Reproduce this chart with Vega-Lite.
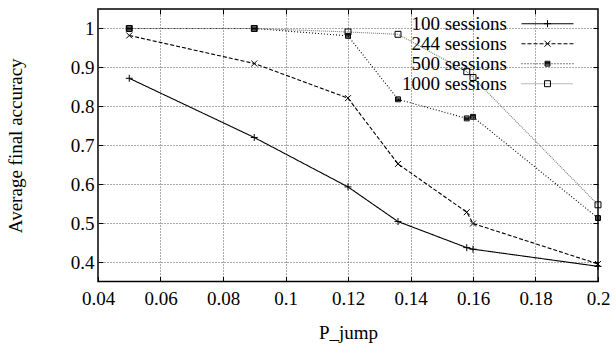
{
  "$schema": "https://vega.github.io/schema/vega-lite/v6.json",
  "width": 500,
  "height": 272.5,
  "autosize": {"type": "none"},
  "padding": {"left": 98, "top": 9, "right": 18, "bottom": 62.5},
  "background": "white",
  "config": {
    "view": {"stroke": "black", "strokeWidth": 1.5},
    "font": "Liberation Serif",
    "axis": {
      "domain": false,
      "tickSize": -5,
      "tickColor": "black",
      "tickWidth": 1,
      "labelFlush": false,
      "labelOverlap": false,
      "labelFont": "Liberation Serif",
      "labelFontSize": 19,
      "labelColor": "black",
      "titleFont": "Liberation Serif",
      "titleFontSize": 19,
      "titleFontWeight": "normal",
      "titleColor": "black",
      "gridColor": "#555",
      "gridDash": [1, 2],
      "gridWidth": 1,
      "gridOpacity": 1
    }
  },
  "data": {
    "values": [
      {"p": 0.05, "acc": 0.872, "series": "100 sessions"},
      {"p": 0.09, "acc": 0.72, "series": "100 sessions"},
      {"p": 0.12, "acc": 0.593, "series": "100 sessions"},
      {"p": 0.136, "acc": 0.504, "series": "100 sessions"},
      {"p": 0.158, "acc": 0.437, "series": "100 sessions"},
      {"p": 0.16, "acc": 0.433, "series": "100 sessions"},
      {"p": 0.2, "acc": 0.389, "series": "100 sessions"},
      {"p": 0.05, "acc": 0.982, "series": "244 sessions"},
      {"p": 0.09, "acc": 0.91, "series": "244 sessions"},
      {"p": 0.12, "acc": 0.821, "series": "244 sessions"},
      {"p": 0.136, "acc": 0.652, "series": "244 sessions"},
      {"p": 0.158, "acc": 0.528, "series": "244 sessions"},
      {"p": 0.16, "acc": 0.499, "series": "244 sessions"},
      {"p": 0.2, "acc": 0.395, "series": "244 sessions"},
      {"p": 0.05, "acc": 1.0, "series": "500 sessions"},
      {"p": 0.09, "acc": 1.0, "series": "500 sessions"},
      {"p": 0.12, "acc": 0.981, "series": "500 sessions"},
      {"p": 0.136, "acc": 0.818, "series": "500 sessions"},
      {"p": 0.158, "acc": 0.769, "series": "500 sessions"},
      {"p": 0.16, "acc": 0.773, "series": "500 sessions"},
      {"p": 0.2, "acc": 0.513, "series": "500 sessions"},
      {"p": 0.05, "acc": 1.0, "series": "1000 sessions"},
      {"p": 0.09, "acc": 1.0, "series": "1000 sessions"},
      {"p": 0.12, "acc": 0.991, "series": "1000 sessions"},
      {"p": 0.136, "acc": 0.985, "series": "1000 sessions"},
      {"p": 0.158, "acc": 0.889, "series": "1000 sessions"},
      {"p": 0.16, "acc": 0.874, "series": "1000 sessions"},
      {"p": 0.2, "acc": 0.547, "series": "1000 sessions"}
    ]
  },
  "resolve": {"axis": {"x": "independent", "y": "independent"}},
  "layer": [
    {
      "mark": {"type": "line", "strokeWidth": 1.1, "clip": false},
      "encoding": {
        "x": {
          "field": "p", "type": "quantitative",
          "scale": {"domain": [0.04, 0.2], "nice": false, "zero": false},
          "axis": {
            "orient": "bottom",
            "values": [0.04, 0.06, 0.08, 0.1, 0.12, 0.14, 0.16, 0.18, 0.2],
            "labelExpr": "'' + datum.value",
            "labelPadding": 13,
            "title": "P_jump",
            "titlePadding": 15
          }
        },
        "y": {
          "field": "acc", "type": "quantitative",
          "scale": {"domain": [0.35, 1.05], "nice": false, "zero": false},
          "axis": {
            "orient": "left",
            "values": [0.4, 0.5, 0.6, 0.7, 0.8, 0.9, 1],
            "labelExpr": "'' + datum.value",
            "labelPadding": 9,
            "title": "Average final accuracy",
            "titlePadding": 45
          }
        },
        "strokeDash": {
          "field": "series", "type": "nominal",
          "scale": {
            "domain": ["100 sessions", "244 sessions", "500 sessions", "1000 sessions"],
            "range": [[1, 0], [4, 2], [1, 2], [1, 1]]
          },
          "legend": {
            "title": null, "orient": "none", "legendX": 440, "legendY": 5.2,
            "symbolType": "M-7.43,0H7.43", "symbolSize": 49, "symbolStrokeWidth": 1.1,
            "symbolFillColor": "transparent",
            "labelAlign": "right", "labelOffset": -50,
            "labelFont": "Liberation Serif", "labelFontSize": 19, "labelColor": "black",
            "rowPadding": 0, "padding": 0, "labelLimit": 300
          }
        },
        "color": {
          "field": "series", "type": "nominal",
          "scale": {
            "domain": ["100 sessions", "244 sessions", "500 sessions", "1000 sessions"],
            "range": ["black", "black", "black", "#777777"]
          },
          "legend": {
            "title": null, "orient": "none", "legendX": 440, "legendY": 5.2,
            "symbolType": "M-7.43,0H7.43", "symbolSize": 49, "symbolStrokeWidth": 1.1,
            "symbolFillColor": "transparent",
            "labelAlign": "right", "labelOffset": -50,
            "labelFont": "Liberation Serif", "labelFontSize": 19, "labelColor": "black",
            "rowPadding": 0, "padding": 0, "labelLimit": 300
          }
        }
      }
    },
    {
      "mark": {"type": "point", "filled": false, "stroke": "black", "strokeWidth": 1, "size": 49, "opacity": 1, "clip": false},
      "encoding": {
        "x": {
          "field": "p", "type": "quantitative",
          "axis": {"orient": "top", "values": [0.06, 0.08, 0.1, 0.12, 0.14, 0.16, 0.18], "labels": false, "grid": false, "title": null}
        },
        "y": {
          "field": "acc", "type": "quantitative",
          "axis": {"orient": "right", "values": [0.4, 0.5, 0.6, 0.7, 0.8, 0.9, 1], "labels": false, "grid": false, "title": null}
        },
        "shape": {
          "field": "series", "type": "nominal",
          "sort": ["100 sessions", "244 sessions", "500 sessions", "1000 sessions"],
          "scale": {
            "range": [
              "M-1,0H1M0,-1V1",
              "M-0.85,-0.85L0.85,0.85M-0.85,0.85L0.85,-0.85",
              "M-0.7,-0.7H0.7V0.7H-0.7ZM-0.7,-0.35H0.7M-0.7,0H0.7M-0.7,0.35H0.7",
              "M-0.85,-0.85H0.85V0.85H-0.85Z"
            ]
          },
          "legend": {
            "title": null, "orient": "none", "legendX": 440, "legendY": 5.2,
            "symbolSize": 49, "symbolStrokeColor": "black", "symbolStrokeWidth": 1, "symbolOpacity": 1,
            "symbolFillColor": "transparent",
            "labelAlign": "right", "labelOffset": -50, "labelOpacity": 0,
            "labelFont": "Liberation Serif", "labelFontSize": 19,
            "rowPadding": 0, "padding": 0, "labelLimit": 300
          }
        }
      }
    }
  ]
}
